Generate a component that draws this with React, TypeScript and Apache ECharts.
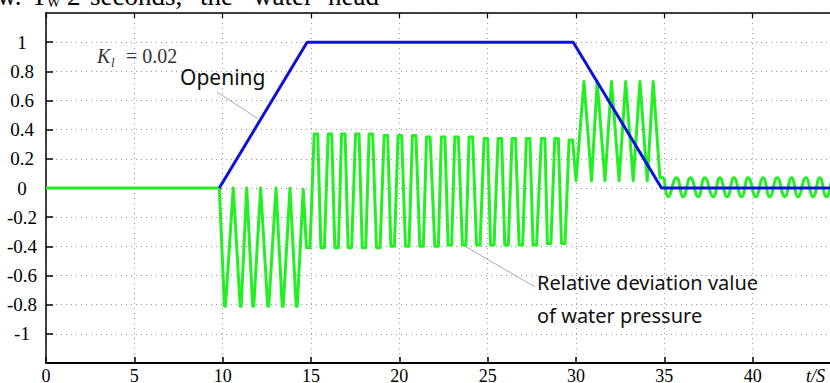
import { useEffect, useRef } from 'react';
import * as echarts from 'echarts';

const SERIF = "'Liberation Serif', 'Times New Roman', serif";
const SANS = "'Noto Sans', 'Open Sans', sans-serif";

// x axis: time in seconds
const xMin = 0;
const xMax = 45;
const xStep = 5;
// y axis: relative value
const yMin = -1.2;
const yMax = 1.2;
const yStep = 0.2;

// guide vane opening (K_l = 0.02)
const openingCurve: [number, number][] = [
  [9.81, 0], [14.78, 1], [29.84, 1], [34.84, 0], [45, 0],
];

// relative deviation value of water pressure
const pressureStartup: [number, number][] = [
  [0, 0], [9.81, 0],
  [10.10, -0.81], [10.16, -0.81], [10.60, 0],
  [10.99, -0.81], [11.05, -0.81], [11.36, 0],
  [11.70, -0.81], [11.76, -0.81], [12.15, 0],
  [12.55, -0.81], [12.61, -0.81], [13.02, 0],
  [13.37, -0.81], [13.43, -0.81], [13.81, 0],
  [14.16, -0.81], [14.22, -0.81], [14.56, -0.01],
];

const pressureSteady: [number, number][] = [
  [14.74, -0.41], [14.94, -0.41],
  [15.18, 0.37], [15.38, 0.37],
  [15.56, -0.41], [15.76, -0.41],
  [15.97, 0.37], [16.17, 0.37],
  [16.35, -0.41], [16.55, -0.41],
  [16.73, 0.37], [16.93, 0.37],
  [17.10, -0.41], [17.30, -0.41],
  [17.52, 0.37], [17.72, 0.37],
  [17.90, -0.41], [18.10, -0.41],
  [18.29, 0.37], [18.49, 0.37],
  [18.71, -0.41], [18.91, -0.41],
  [19.14, 0.36], [19.34, 0.36],
  [19.52, -0.40], [19.72, -0.40],
  [19.93, 0.36], [20.13, 0.36],
  [20.35, -0.40], [20.55, -0.40],
  [20.74, 0.36], [20.94, 0.36],
  [21.16, -0.40], [21.36, -0.40],
  [21.54, 0.35], [21.74, 0.35],
  [22.01, -0.40], [22.21, -0.40],
  [22.38, 0.35], [22.58, 0.35],
  [22.76, -0.39], [22.96, -0.39],
  [23.14, 0.35], [23.34, 0.35],
  [23.57, -0.39], [23.77, -0.39],
  [23.95, 0.35], [24.15, 0.35],
  [24.37, -0.39], [24.57, -0.39],
  [24.80, 0.34], [25.00, 0.34],
  [25.16, -0.39], [25.36, -0.39],
  [25.59, 0.34], [25.79, 0.34],
  [25.97, -0.39], [26.17, -0.39],
  [26.38, 0.34], [26.58, 0.34],
  [26.78, -0.39], [26.98, -0.39],
  [27.19, 0.34], [27.39, 0.34],
  [27.57, -0.39], [27.77, -0.39],
  [28.04, 0.34], [28.24, 0.34],
  [28.38, -0.38], [28.58, -0.38],
  [28.80, 0.34], [29.00, 0.34],
  [29.18, -0.38], [29.38, -0.38],
  [29.61, 0.33], [29.81, 0.33],
];

const pressureClosing: [number, number][] = [
  [30.00, 0.05], [30.45, 0.73], [30.88, 0.05], [31.20, 0.73],
  [31.64, 0.05], [32.01, 0.73], [32.44, 0.05], [32.81, 0.73],
  [33.24, 0.05], [33.62, 0.73], [34.03, 0.05], [34.37, 0.73],
  [34.75, 0.07], [35.00, 0.07],
];

const pressureAfter: [number, number][] = [
  [35.00, 0.07], [35.22, -0.06], [35.69, 0.07], [36.07, -0.06],
  [36.48, 0.07], [36.92, -0.06], [37.29, 0.07], [37.77, -0.06],
  [38.14, 0.07], [38.56, -0.06], [38.94, 0.07], [39.37, -0.06],
  [39.75, 0.07], [40.18, -0.06], [40.59, 0.07], [40.97, -0.06],
  [41.39, 0.07], [41.82, -0.06], [42.20, 0.07], [42.57, -0.06],
  [43.01, 0.07], [43.42, -0.06], [43.80, 0.07], [44.18, -0.06],
  [44.60, 0.07], [45.00, -0.06],
];

const GREEN = '#22f022';
const BLUE = '#0a10dd';

export default function App() {
  const ref = useRef<HTMLDivElement>(null);

  useEffect(() => {
    const chart = echarts.init(ref.current!, null, { renderer: 'svg' });
    const dotted = { color: '#9a9a9a', width: 1, type: [1, 4] as number[] };
    const txt = (x: number, y: number, text: string, font: string, size: number, extra: any = {}) => ({
      type: 'text',
      x,
      y,
      silent: true,
      style: {
        text,
        fontFamily: font,
        fontSize: size,
        fill: '#111',
        verticalAlign: 'middle',
        align: 'left',
        ...extra,
      },
    });
    chart.setOption({
      animation: false,
      backgroundColor: '#ffffff',
      grid: { left: 46, right: -11, top: 13, bottom: 20, show: false, containLabel: false, outerBoundsMode: 'none' },
      xAxis: [
        {
          type: 'value',
          min: xMin,
          max: xMax,
          interval: xStep,
          position: 'bottom',
          axisLine: { show: true, onZero: false, lineStyle: { color: '#000', width: 2 } },
          axisTick: { show: true, inside: true, length: 6, lineStyle: { color: '#000', width: 1.5 } },
          axisLabel: {
            margin: 4,
            fontSize: 18,
            fontFamily: SERIF,
            color: '#000',
            showMaxLabel: false,
          },
          splitLine: { show: true, lineStyle: dotted },
        },
        {
          type: 'value',
          min: xMin,
          max: xMax,
          interval: xStep,
          position: 'top',
          axisLine: { show: true, onZero: false, lineStyle: { color: '#000', width: 1.5 } },
          axisTick: { show: true, inside: true, length: 5, lineStyle: { color: '#000', width: 1.2 } },
          axisLabel: { show: false },
          splitLine: { show: false },
        },
      ],
      yAxis: {
        type: 'value',
        min: yMin,
        max: yMax,
        interval: yStep,
        axisLine: { show: true, onZero: false, lineStyle: { color: '#000', width: 1.5 } },
        axisTick: { show: true, inside: true, length: 7, lineStyle: { color: '#000', width: 1.5 } },
        axisLabel: {
          showMinLabel: false,
          showMaxLabel: false,
          fontSize: 19,
          fontFamily: SERIF,
          color: '#000',
          align: 'center',
          margin: 24,
          formatter: (v: number) => {
            const r = Math.round(v * 10) / 10;
            return r === 0 ? '0' : String(r);
          },
        },
        splitLine: { show: true, lineStyle: dotted },
      },
      series: [
        {
          type: 'line',
          name: 'pressure',
          data: [...pressureStartup, ...pressureSteady, ...pressureClosing],
          showSymbol: false,
          z: 2,
          lineStyle: { color: GREEN, width: 3, join: 'round' },
        },
        {
          type: 'line',
          name: 'pressure-after',
          data: pressureAfter,
          showSymbol: false,
          smooth: 0.5,
          z: 2,
          lineStyle: { color: GREEN, width: 3 },
        },
        {
          type: 'line',
          name: 'opening',
          data: openingCurve,
          showSymbol: false,
          z: 3,
          lineStyle: { color: BLUE, width: 3 },
        },
      ],
      graphic: [
        // cropped caption line at the very top
        txt(-3, -4, 'w.', SERIF, 27, { fill: '#000' }),
        txt(31, -4, 'T', SERIF, 27, { fill: '#000' }),
        txt(47, 2, 'W', SERIF, 14, { fill: '#000' }),
        txt(59, -7, '=', SERIF, 20, { fill: '#000' }),
        txt(67, -4, '2', SERIF, 27, { fill: '#000' }),
        txt(90, -4, 'seconds,', SERIF, 27, { fill: '#000' }),
        txt(200, -4, 'the', SERIF, 27, { fill: '#000' }),
        txt(253, -4, 'water', SERIF, 27, { fill: '#000' }),
        txt(328, -4, 'head', SERIF, 27, { fill: '#000' }),
        // K_l = 0.02
        txt(97, 56, 'K', SERIF, 20, { fontStyle: 'italic', fill: '#333' }),
        txt(111, 62, 'l', SERIF, 13, { fontStyle: 'italic', fill: '#333' }),
        txt(126, 56, '= 0.02', SERIF, 20, { fill: '#333' }),
        // Opening annotation
        txt(180, 77, 'Opening', SANS, 21),
        {
          type: 'line',
          silent: true,
          shape: { x1: 217, y1: 92, x2: 257, y2: 118 },
          style: { stroke: '#aaa', lineWidth: 1 },
        },
        // water pressure annotation
        txt(537, 282, 'Relative deviation value', SANS, 20),
        txt(537, 315, 'of water pressure', SANS, 20),
        {
          type: 'line',
          silent: true,
          shape: { x1: 463, y1: 245, x2: 535, y2: 287 },
          style: { stroke: '#aaa', lineWidth: 1 },
        },
        // axis name
        txt(806, 376, 't/S', SERIF, 18, { fontStyle: 'italic', fill: '#000' }),
      ],
    });
    return () => chart.dispose();
  }, []);

  return (
    <div
      ref={ref}
      style={{ position: 'absolute', left: 0, top: 0, width: 830, height: 383, background: '#fff' }}
    />
  );
}
